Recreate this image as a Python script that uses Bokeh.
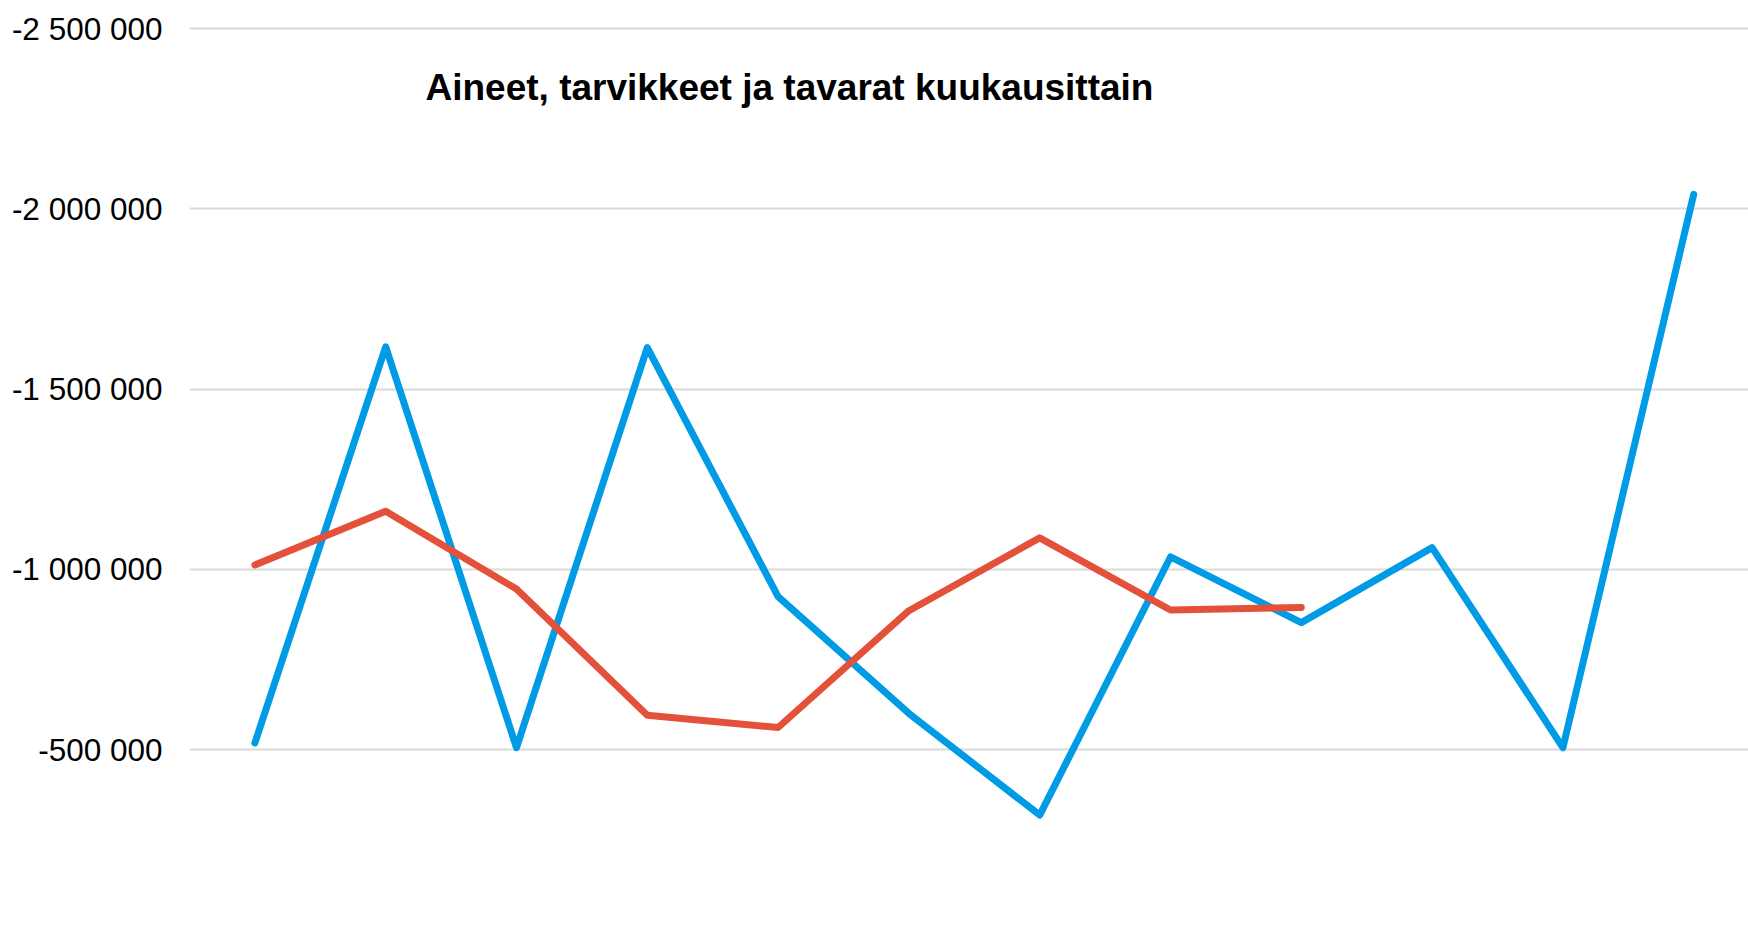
from bokeh.plotting import figure
from bokeh.models import Range1d, FixedTicker, Label, ColumnDataSource
from bokeh.embed import file_html
from bokeh.resources import INLINE

# ---- data ----
months = [1, 2, 3, 4, 5, 6, 7, 8, 9, 10, 11, 12]
series_blue = [-518000, -1617000, -505000, -1615000, -924000, -600000,
               -318000, -1034000, -852000, -1060000, -505000, -2040000]
series_orange = [-1012000, -1161000, -945000, -595000, -561000, -885000,
                 -1087000, -887000, -894000]
tick_values = [-2500000, -2000000, -1500000, -1000000, -500000, 0]
tick_labels = ["-2 500 000", "-2 000 000", "-1 500 000", "-1 000 000", "-500 000", "0"]
title_text = "Aineet, tarvikkeet ja tavarat kuukausittain"

# ---- layout ----
W, H = 1748, 927
left, top = 189, 25          # frame starts 3px above the top gridline (page y=28)
frame_w = W - left
frame_h = H - top
px_per_cat = 130.8
px_per_500k = 180.25
units_per_px = 500000 / px_per_500k

x_end = 0.5 + frame_w / px_per_cat
y_top = tick_values[0] - 3 * units_per_px
y_bottom = y_top + frame_h * units_per_px

p = figure(width=W, height=H, output_backend="svg", toolbar_location=None,
           x_range=Range1d(0.5, x_end), y_range=Range1d(y_bottom, y_top),
           min_border_left=left, min_border_right=0, min_border_top=top,
           min_border_bottom=0)
p.outline_line_color = None
p.background_fill_color = "white"
p.border_fill_color = "white"

p.xaxis.visible = False
p.xgrid.visible = False

p.yaxis.ticker = FixedTicker(ticks=tick_values)
p.yaxis.major_label_overrides = {v: l for v, l in zip(tick_values, tick_labels)}
p.yaxis.axis_line_color = None
p.yaxis.major_tick_line_color = None
p.yaxis.minor_tick_line_color = None
p.yaxis.major_tick_out = 0
p.yaxis.major_tick_in = 0
p.yaxis.major_label_standoff = 27
p.yaxis.major_label_text_font = "Liberation Sans"
p.yaxis.major_label_text_font_size = "31.5px"
p.yaxis.major_label_text_color = "black"

p.ygrid.grid_line_color = "#D9D9D9"
p.ygrid.grid_line_width = 2

src_b = ColumnDataSource(dict(x=months, y=series_blue))
src_o = ColumnDataSource(dict(x=months[:len(series_orange)], y=series_orange))
p.line("x", "y", source=src_b, line_color="#009BE5", line_width=7,
       line_cap="round", line_join="round")
p.line("x", "y", source=src_o, line_color="#E4513A", line_width=7,
       line_cap="round", line_join="round")

# title inside plot area
p.add_layout(Label(x=0.5 + 236 / px_per_cat, y=tick_values[0] + 59 * units_per_px,
                   text=title_text, text_font="Liberation Sans",
                   text_font_style="bold", text_font_size="37px",
                   text_color="black", text_baseline="alphabetic",
                   text_align="left"))

# the "0" tick label sits just below the visible frame
p.add_layout(Label(x=0.5 - 27 / px_per_cat, y=tick_values[-1], text=tick_labels[-1],
                   text_font="Liberation Sans", text_font_size="31.5px",
                   text_color="black", text_baseline="middle", text_align="right"))

open("out.html", "w").write(file_html(p, INLINE))
